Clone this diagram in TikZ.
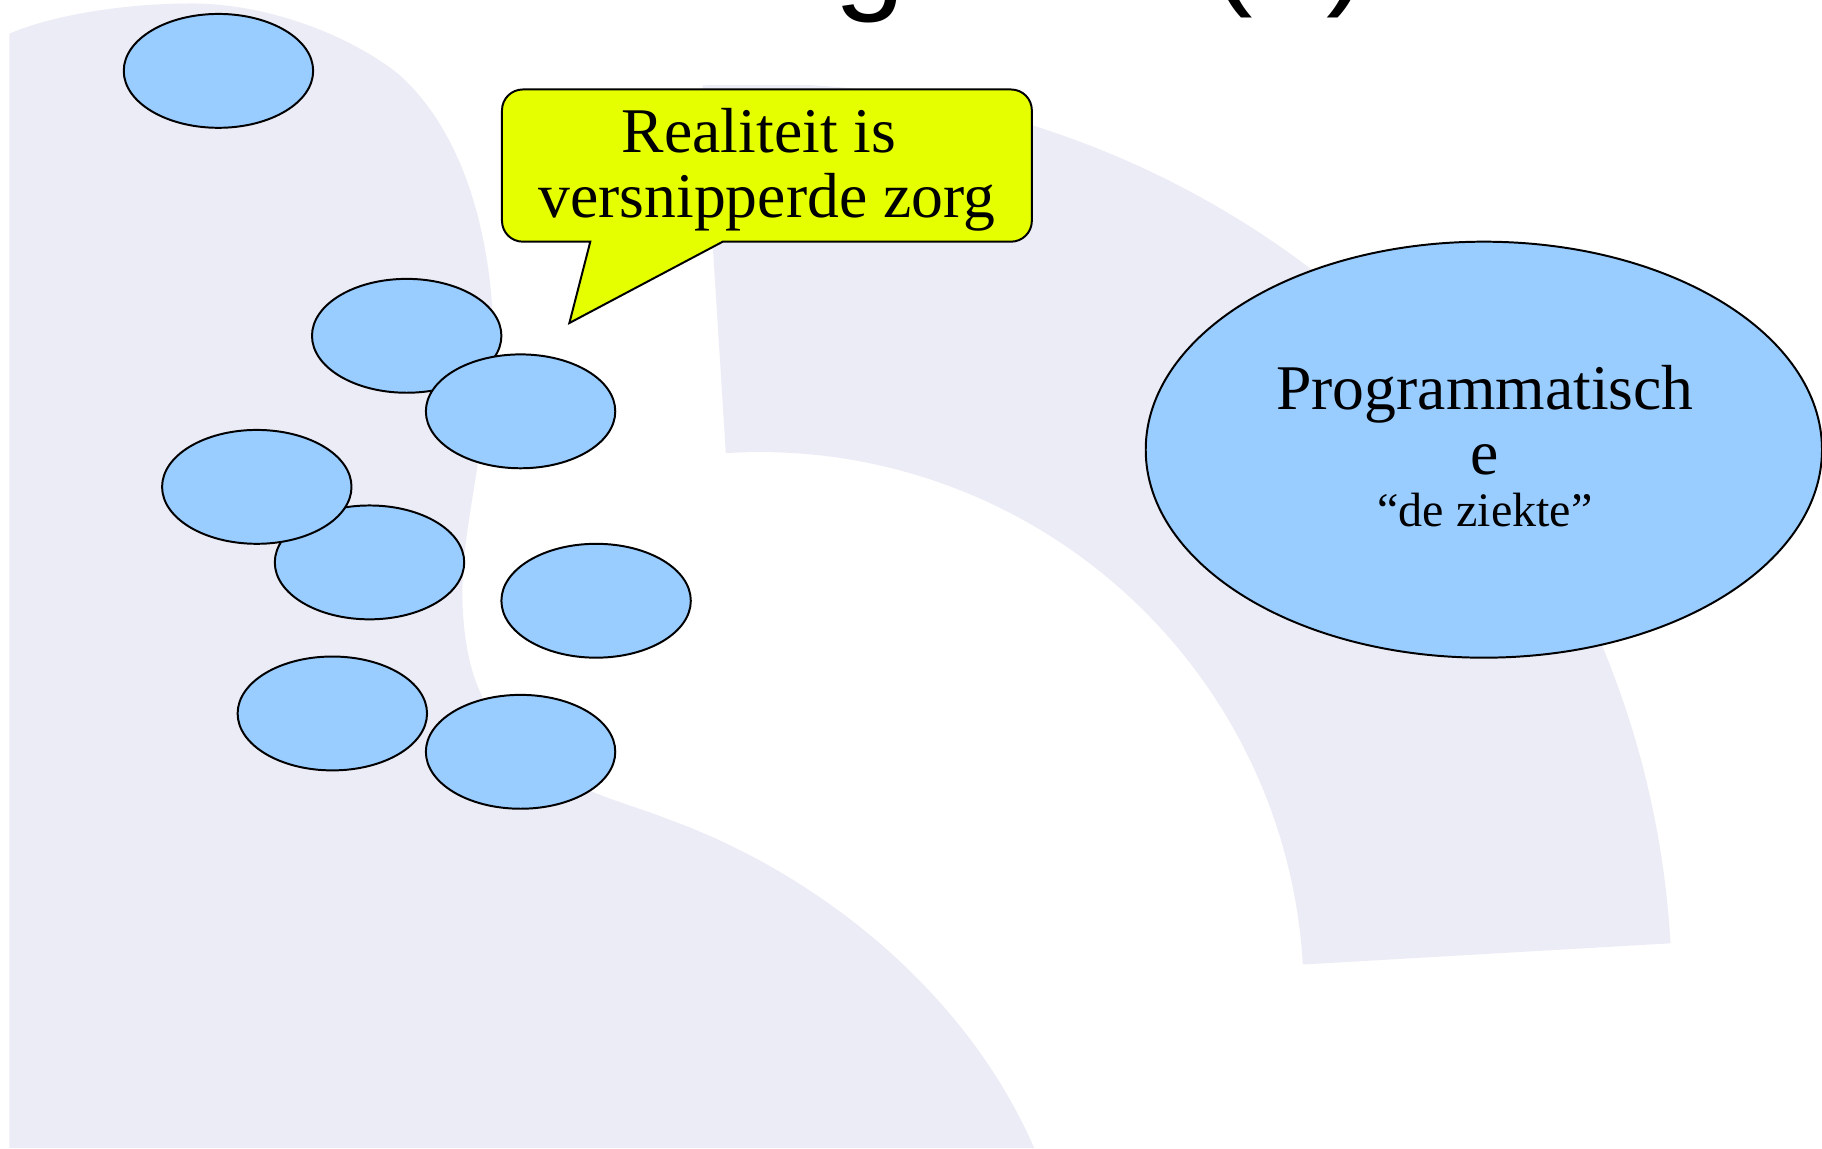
\documentclass[tikz,border=0pt]{standalone}
\usepackage{fontspec}
\setmainfont{Liberation Serif}
\newfontfamily\titlefont{Liberation Sans}
\usetikzlibrary{shapes.geometric}
\definecolor{bglav}{HTML}{ECECF6}
\definecolor{cellblue}{HTML}{99CCFF}
\definecolor{callyellow}{HTML}{E6FF00}
\tikzset{
  cell/.style={ellipse, draw=black, fill=cellblue, line width=0.85pt, minimum width=81.5pt, minimum height=49pt, inner sep=0pt},
  bigcell/.style={cell, minimum width=291pt, minimum height=179pt},
  bubble/.style={draw=black, fill=callyellow, line width=0.85pt, line join=miter},
  bigtext/.style={font=\fontsize{27.4}{28}\selectfont, inner sep=0pt, anchor=base},
  smalltext/.style={font=\fontsize{20.7}{22}\selectfont, inner sep=0pt, anchor=base},
  titletext/.style={font=\titlefont\fontsize{55}{60}\selectfont, inner sep=0pt, anchor=base west},
}
\begin{document}
\begin{tikzpicture}[x=0.5pt,y=-0.5pt]
\useasboundingbox (0,0) rectangle (1568,988);
\clip (0,0) rectangle (1568,988);
% background left shape
\fill[bglav] (8,988) -- (8,29) .. controls (40,15) and (100,3) .. (165,3)
  .. controls (230,3) and (300,30) .. (342,63)
  .. controls (385,100) and (418,170) .. (424,270)
  .. controls (426,330) and (416,370) .. (411,400)
  .. controls (405,440) and (397,480) .. (398,517)
  .. controls (399,550) and (404,575) .. (413,595)
  .. controls (430,640) and (470,665) .. (509,681)
  .. controls (530,690) and (555,697) .. (575,705)
  .. controls (700,750) and (830,850) .. (890,988) -- cycle;
% background band
\begin{scope}
\clip (0,74) rectangle (1568,988);
\fill[bglav] plot[domain=3.3:93.6,samples=80] ({654+785*cos(\x)},{857-785*sin(\x)})
  -- plot[domain=93.6:3.3,samples=80] ({654+468*cos(\x)},{857-468*sin(\x)}) -- cycle;
\end{scope}
% title fragments
\node[titletext] (tg) at (718,-3) {g};
\node[titletext] (tpl) at (1041,-7) {(};
\node[titletext] (tpr) at (1141,-7) {)};
% callout
\draw[bubble] (490,278) -- (622,208) -- (870,208) .. controls (880,208) and (888,200) .. (888,190)
  -- (888,95) .. controls (888,85) and (880,77) .. (870,77)
  -- (450,77) .. controls (440,77) and (432,85) .. (432,95)
  -- (432,190) .. controls (432,200) and (440,208) .. (450,208) -- (508,208) -- cycle;
\node[bigtext] (r1) at (660,131) {Realiteit is\hspace*{0.25em}};
\node[bigtext] (r2) at (660,187) {versnipperde zorg};
% small cells
\node[cell] (c1) at (188,61) {};
\node[cell] (c2) at (350,289) {};
\node[cell] (c3) at (448,354) {};
\node[cell] (c5) at (318,484) {};
\node[cell] (c4) at (221,419) {};
\node[cell] (c6) at (513,517) {};
\node[cell] (c7) at (286,614) {};
\node[cell] (c8) at (448,647) {};
% big cell
\node[bigcell] (prog) at (1277,387) {};
\node[bigtext] (p1) at (1278,352) {Programmatisch};
\node[bigtext] (p2) at (1278,408) {e};
\node[smalltext] (p3) at (1278,453) {“de ziekte”};
\end{tikzpicture}
\end{document}
